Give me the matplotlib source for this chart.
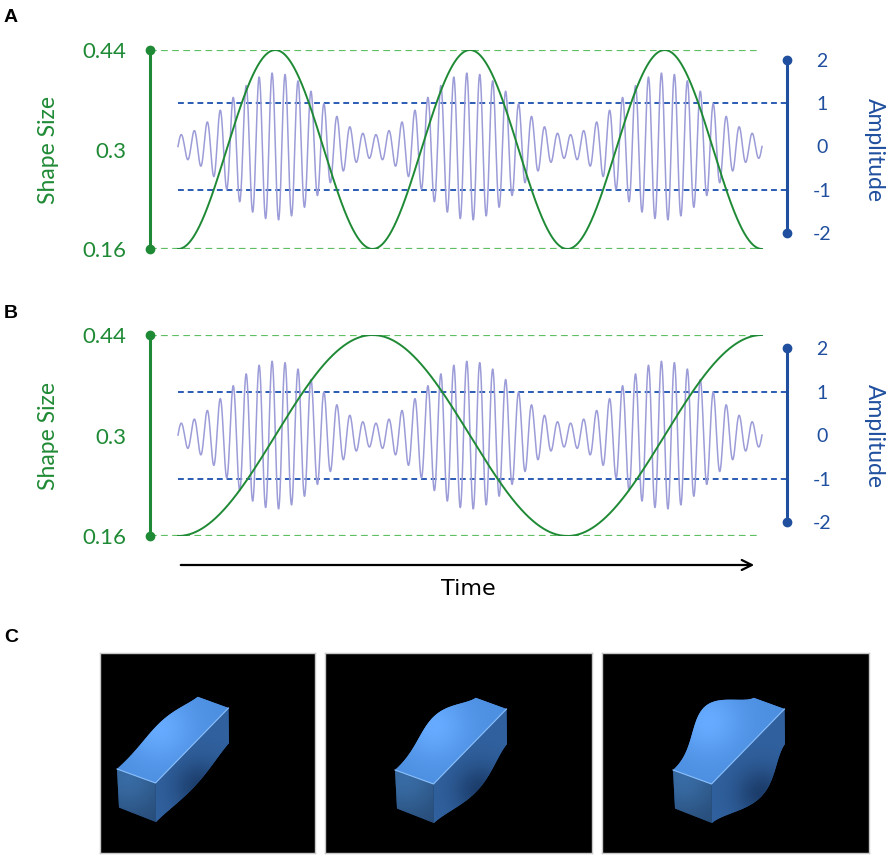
import numpy as np
import matplotlib
matplotlib.use("Agg")
import matplotlib.pyplot as plt
from matplotlib.patches import Polygon, FancyArrowPatch

plt.rcParams["font.family"] = ["Lato", "DejaVu Sans"]

W, H = 892, 859

# --- values ---
SHAPE_TICKS = [0.16, 0.3, 0.44]
SHAPE_LABELS = ["0.16", "0.3", "0.44"]
AMP_TICKS = [-2, -1, 0, 1, 2]
AMP_LABELS = ["-2", "-1", "0", "1", "2"]
AMP_GUIDES = [-1, 1]
CARRIER_CYCLES = 45          # carrier oscillations over the time span
ENVELOPE_CYCLES = 3          # amplitude-modulation cycles
ENVELOPE_RANGE = [0.27, 1.7]  # smallest / largest carrier peak
SHAPE_CYCLES_A = 3           # shape size cycles, panel A
SHAPE_CYCLES_B = 1.5         # shape size cycles, panel B
SHAPE_BULGES = [6, 14, 26]   # bulge of the rendered blocks (px)

GREEN = "#1f8a35"
GREEN_LIGHT = "#5fbf63"
BLUE = "#1f4f9e"
BLUE_DASH = "#2a5cb3"
CARRIER = "#9c9cd8"


def px_box(x0, y0, x1, y1):
    return [x0 / W, 1 - y1 / H, (x1 - x0) / W, (y1 - y0) / H]


fig = plt.figure(figsize=(W / 100, H / 100), dpi=100)

t = np.linspace(0, 1, 6000)
env = ENVELOPE_RANGE[0] + (ENVELOPE_RANGE[1] - ENVELOPE_RANGE[0]) * (
    1 - np.cos(2 * np.pi * ENVELOPE_CYCLES * t)) / 2
carrier = env * np.sin(2 * np.pi * CARRIER_CYCLES * t)
size_mid = SHAPE_TICKS[1]
size_half = (SHAPE_TICKS[2] - SHAPE_TICKS[0]) / 2

xl, xr = -28 / 584, 1 + 25 / 584


def wave_panel(top, bottom, amp_lim, cycles, letter, letter_y):
    ax = fig.add_axes(px_box(150, top, 787, bottom))
    ax2 = ax.twinx()
    ax.set_zorder(ax2.get_zorder() + 1)
    ax.patch.set_visible(False)
    ax.set_xlim(xl, xr)
    ax.set_ylim(SHAPE_TICKS[0], SHAPE_TICKS[-1])
    ax2.set_ylim(*amp_lim)

    for s in ["top", "bottom", "right"]:
        ax.spines[s].set_visible(False)
    for s in ["top", "bottom", "left"]:
        ax2.spines[s].set_visible(False)
    ax.spines["left"].set_bounds(SHAPE_TICKS[0], SHAPE_TICKS[-1])
    ax.spines["left"].set_color(GREEN)
    ax.spines["left"].set_linewidth(2.2)
    ax2.spines["right"].set_bounds(AMP_TICKS[0], AMP_TICKS[-1])
    ax2.spines["right"].set_color(BLUE)
    ax2.spines["right"].set_linewidth(2.2)

    ax.set_xticks([])
    ax.set_yticks(SHAPE_TICKS, SHAPE_LABELS)
    ax.tick_params(axis="y", length=0, pad=17, labelsize=16, labelcolor=GREEN)
    ax2.set_yticks(AMP_TICKS, AMP_LABELS)
    ax2.tick_params(axis="y", length=0, pad=25, labelsize=14, labelcolor=BLUE)
    for lbl in ax2.get_yticklabels():
        lbl.set_horizontalalignment("center")

    # guide lines
    for v in [SHAPE_TICKS[0], SHAPE_TICKS[-1]]:
        ax.plot([xl, 0.993], [v, v], color=GREEN_LIGHT, lw=1.6, ls=(0, (3, 2)))
    for v in AMP_GUIDES:
        ax2.plot([0, xr], [v, v], color=BLUE_DASH, lw=1.4, ls=(0, (3, 2)))

    ax2.plot(t, carrier, color=CARRIER, lw=1.1)
    ax.plot(t, size_mid - size_half * np.cos(2 * np.pi * cycles * t), color=GREEN, lw=1.4)

    ax.plot([xl, xl], [SHAPE_TICKS[0], SHAPE_TICKS[-1]], "o", color=GREEN, ms=6, clip_on=False)
    ax2.plot([xr, xr], [AMP_TICKS[0], AMP_TICKS[-1]], "o", color=BLUE, ms=6, clip_on=False)

    ax.text(-0.16, 0.5, "Shape Size", transform=ax.transAxes, rotation=90,
            ha="center", va="center", color=GREEN, fontsize=16.5)
    ax.text(1.138, 0.5, "Amplitude", transform=ax.transAxes, rotation=-90,
            ha="center", va="center", color=BLUE, fontsize=16.5)
    fig.text(4 / W, 1 - letter_y / H, letter, fontsize=14, fontweight="bold",
             family="Liberation Sans", ha="left", va="center")


wave_panel(50, 249, (-2.37, 2.23), SHAPE_CYCLES_A, "A", 18)
wave_panel(335, 536, (-2.32, 2.30), SHAPE_CYCLES_B, "B", 313)

# time arrow
fig.add_artist(FancyArrowPatch((178 / W, 1 - 565 / H), (757 / W, 1 - 565 / H),
                               transform=fig.transFigure, arrowstyle="->",
                               mutation_scale=18, lw=1.6, color="black"))
fig.text(468 / W, 1 - 589 / H, "Time", ha="center", va="center", fontsize=16,
         family="DejaVu Sans")

fig.text(4 / W, 1 - 637 / H, "C", fontsize=14, fontweight="bold",
         family="Liberation Sans", ha="left", va="center")

# --- panel C: rendered blocks ---
IMAGE_BOXES = [(100, 653, 315, 853), (325, 653, 592, 853), (602, 653, 869, 853)]
BLOCK_ANCHORS = [(17, 116), (70, 117), (71, 117)]


def bulged(a, b, amount, skew=1.4, n=80):
    s = np.linspace(0, 1, n)[:, None]
    d = b - a
    normal = np.array([d[1], -d[0]]) / np.hypot(*d)
    return a + s * d + normal * amount * np.sin(np.pi * s ** skew) ** 1.5


def shade(ax, verts, c_edge, c_mid, center, radius, w, h):
    poly = Polygon(verts, closed=True, facecolor=c_edge, edgecolor="none",
                   transform=ax.transData, zorder=2)
    ax.add_patch(poly)
    yy, xx = np.mgrid[0:h:1.0, 0:w:1.0]
    f = np.exp(-(np.hypot(xx - center[0], yy - center[1]) / radius) ** 2)[..., None]
    img = np.array(c_edge) + (np.array(c_mid) - np.array(c_edge)) * f
    im = ax.imshow(img, extent=(0, w, h, 0), origin="upper", aspect="auto",
                   interpolation="bilinear", zorder=3)
    im.set_clip_path(poly)


for (x0, y0, x1, y1), anchor, bulge in zip(IMAGE_BOXES, BLOCK_ANCHORS, SHAPE_BULGES):
    w, h = x1 - x0, y1 - y0
    ax = fig.add_axes(px_box(x0, y0, x1, y1))
    ax.set_facecolor("black")
    ax.set_xticks([])
    ax.set_yticks([])
    for sp in ax.spines.values():
        sp.set_color("#c8c8c8")
        sp.set_linewidth(1)

    ftl = np.array(anchor, float)
    ftr = ftl + (38.5, 14)
    fbr = ftl + (39, 53)
    fbl = ftl + (2, 38.5)
    btr = ftr + (73, -75)
    btl = btr + 0.8 * (ftl - ftr)
    bbr = btr + 0.9 * (fbr - ftr)

    top_edge = bulged(ftl, btl, bulge)
    top = np.vstack([ftr, btr, top_edge[::-1]])
    side_edge = bulged(fbr, bbr, -0.7 * bulge, skew=1.0)
    side = np.vstack([ftr, btr, side_edge[::-1]])
    front = np.vstack([ftl, ftr, fbr, fbl])

    top_c = top.mean(axis=0)
    side_c = side.mean(axis=0)
    shade(ax, top, (0.30, 0.56, 0.88), (0.40, 0.67, 1.0), top_c + (2, -4), 34, w, h)
    shade(ax, side, (0.19, 0.38, 0.62), (0.11, 0.24, 0.42), side_c + (6, 4), 26, w, h)
    shade(ax, front, (0.15, 0.29, 0.46), (0.22, 0.42, 0.64), ftl + (10, 8), 35, w, h)
    ax.plot([ftl[0], ftr[0], btr[0]], [ftl[1], ftr[1], btr[1]],
            color=(0.55, 0.76, 1.0), lw=0.8, zorder=4)

    ax.set_xlim(0, w)
    ax.set_ylim(h, 0)

fig.savefig("out.png", dpi=100)
